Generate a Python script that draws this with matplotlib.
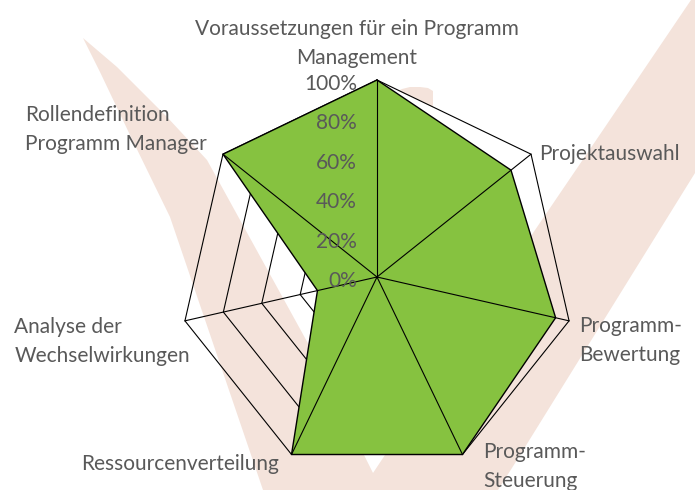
import numpy as np
import matplotlib.pyplot as plt
from matplotlib.patches import Polygon

# data
categories = ["Voraussetzungen für ein Programm\nManagement", "Projektauswahl",
              "Programm-\nBewertung", "Programm-\nSteuerung", "Ressourcenverteilung",
              "Analyse der\nWechselwirkungen", "Rollendefinition\nProgramm Manager"]
values = [1.00, 0.87, 0.93, 1.00, 1.00, 0.31, 1.00]
levels = [0.0, 0.2, 0.4, 0.6, 0.8, 1.0]
level_labels = ["0%", "20%", "40%", "60%", "80%", "100%"]

W, H = 695, 490
plt.rcParams['font.family'] = ['Lato', 'DejaVu Sans']
txt_color = '#595959'
green = '#86c240'
peach = '#f4e3db'

fig = plt.figure(figsize=(W / 100, H / 100), dpi=100)

# background watermark (check mark), pixel coords of the picture
mark = [(83, 38), (100, 72), (130, 135), (170, 217), (263, 490), (498, 490),
        (517, 460), (695, 173), (802, 0), (691, 0), (603, 130), (533, 233),
        (373, 473), (310, 347), (207, 160), (167, 117), (117, 67)]
dot = [(398, 91), (402, 89), (410, 87), (420, 87), (428, 88), (433, 91), (433, 107)]
for pts in (mark, dot):
    fig.add_artist(Polygon([(x / W, 1 - y / H) for x, y in pts], closed=True,
                           facecolor=peach, edgecolor='none',
                           transform=fig.transFigure, zorder=-1))

# polar axes centred at (377, 277) px, radius 197 px
cx, cy, R = 377, 277, 197
ax = fig.add_axes([(cx - R) / W, (H - cy - R) / H, 2 * R / W, 2 * R / H],
                  projection='polar')
ax.set_theta_offset(np.pi / 2)
ax.set_theta_direction(-1)
ax.set_ylim(0, 1)
ax.grid(False)
ax.set_xticks([])
ax.set_yticks([])
ax.spines['polar'].set_visible(False)
ax.patch.set_visible(False)

n = len(categories)
theta = np.arange(n) * 2 * np.pi / n
th_closed = np.append(theta, theta[0])

# rings
for lv in levels[1:]:
    ax.plot(th_closed, [lv] * (n + 1), color='black', lw=0.8, zorder=1, clip_on=False)

# data polygon
vals = np.append(values, values[0])
ax.fill(th_closed, vals, facecolor=green, edgecolor='black', lw=1.0, zorder=2, clip_on=False)

# spokes on top
for t in theta:
    ax.plot([t, t], [0, 1], color='black', lw=0.8, zorder=3, clip_on=False)

# percent labels along the top spoke
for lv, lab in zip(levels, level_labels):
    ax.annotate(lab, xy=(0, lv), xytext=(-20, -4), textcoords='offset pixels',
                ha='right', va='center', fontsize=15, color=txt_color, zorder=4)

# category labels
label_pos = [((-20, 12), 'center', 'bottom', 'center'),
             ((8, 0), 'left', 'center', 'left'),
             ((10, 5), 'left', 'top', 'left'),
             ((21, 12), 'left', 'top', 'left'),
             ((-13, -10), 'right', 'center', 'left'),
             ((5, 4), 'right', 'top', 'left'),
             ((-16, 0), 'right', 'bottom', 'left')]
for t, cat, (off, ha, va, ma) in zip(theta, categories, label_pos):
    ax.annotate(cat, xy=(t, 1), xytext=off, textcoords='offset pixels',
                ha=ha, va=va, multialignment=ma, fontsize=15, color=txt_color,
                linespacing=1.55)

fig.savefig('out.png', dpi=100, facecolor='white')
